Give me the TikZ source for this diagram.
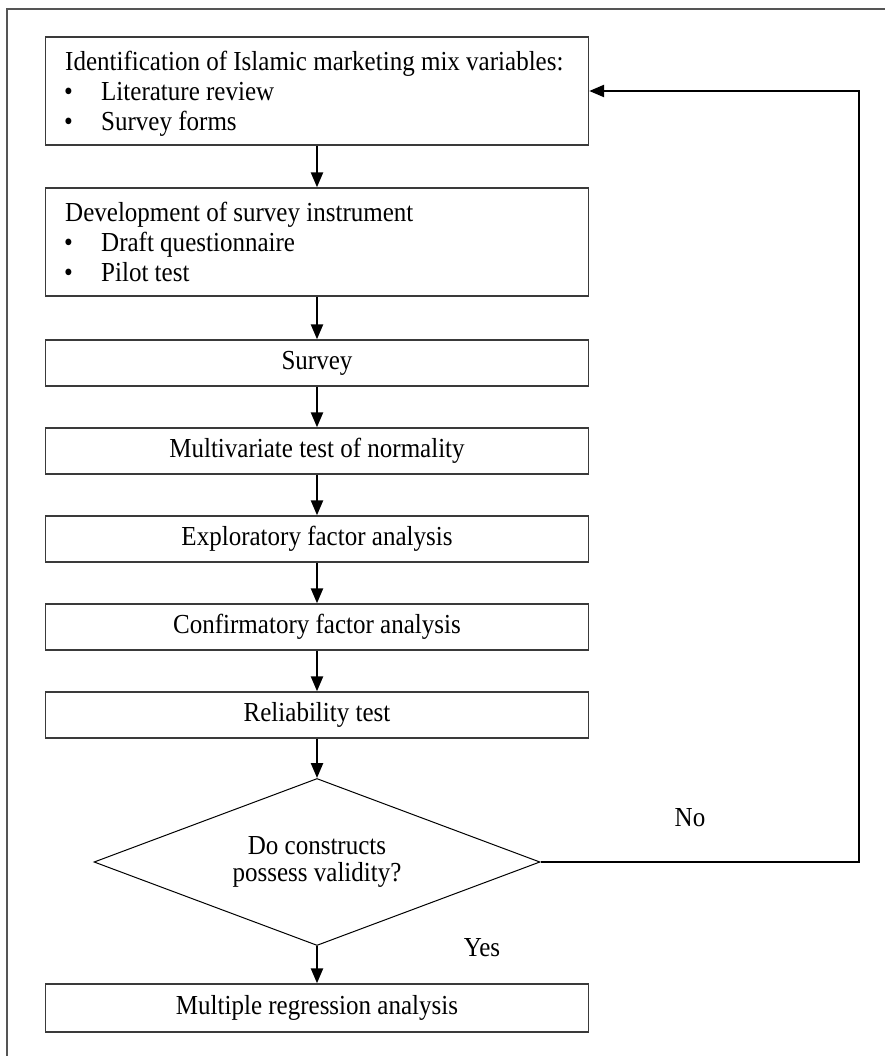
\documentclass[tikz,border=0pt]{standalone}
\usepackage{fontspec}
\setmainfont[FakeStretch=0.91]{Liberation Serif}
\usetikzlibrary{arrows.meta,shapes.geometric}
\definecolor{edgegray}{HTML}{3A3A3A}
\definecolor{framegray}{HTML}{555555}
\begin{document}
\begin{tikzpicture}[x=1pt,y=-1pt,
  font=\fontsize{27.5pt}{30pt}\selectfont,
  box/.style={draw=edgegray, line width=1.4pt, minimum width=543pt, inner sep=0pt},
  txt/.style={anchor=base west, inner sep=0pt},
  lbl/.style={inner sep=0pt},
  arr/.style={-{Triangle[length=15pt,width=12pt]}, line width=2.4pt, black},
  decision/.style={diamond, aspect=2.67, draw=black, line width=1pt, minimum width=446pt, minimum height=167pt, inner sep=0pt, align=center, font=\fontsize{27.5pt}{27pt}\selectfont}
]
\useasboundingbox (0,0) rectangle (884,1056);
% outer frame
\draw[framegray, line width=1.6pt] (7,1060) -- (7,9) -- (890,9);

% boxes
\node[box, minimum height=108pt] (b1) at (317,91) {};
\node[txt] (t1) at (65,71) {Identification of Islamic marketing mix variables:};
\node[txt] (t1a) at (64,101) {•};
\node[txt] (t1b) at (101,101) {Literature review};
\node[txt] (t1c) at (64,131) {•};
\node[txt] (t1d) at (101,131) {Survey forms};

\node[box, minimum height=108pt] (b2) at (317,242) {};
\node[txt] (t2) at (65,222) {Development of survey instrument};
\node[txt] (t2a) at (64,252) {•};
\node[txt] (t2b) at (101,252) {Draft questionnaire};
\node[txt] (t2c) at (64,282) {•};
\node[txt] (t2d) at (101,282) {Pilot test};

\node[box, minimum height=46pt] (b3) at (317,363) {Survey};
\node[box, minimum height=46pt] (b4) at (317,451) {Multivariate test of normality};
\node[box, minimum height=46pt] (b5) at (317,539) {Exploratory factor analysis};
\node[box, minimum height=46pt] (b6) at (317,627) {Confirmatory factor analysis};
\node[box, minimum height=46pt] (b7) at (317,715) {Reliability test};

\node[decision] (d) at (317,862) {Do constructs\\possess validity?};

\node[box, minimum height=48pt] (b8) at (317,1008) {Multiple regression analysis};

\node[lbl] (no) at (690,818) {No};
\node[lbl] (yes) at (482,948) {Yes};

\coordinate (fbx) at (859,0);

% connectors
\draw[arr] (b1) -- (b2);
\draw[arr] (b2) -- (b3);
\draw[arr] (b3) -- (b4);
\draw[arr] (b4) -- (b5);
\draw[arr] (b5) -- (b6);
\draw[arr] (b6) -- (b7);
\draw[arr] (b7) -- (d);
\draw[arr] (d) -- (b8);
\draw[arr, line join=miter] (d.east) -- (d.east -| fbx) |- (b1.east);
\end{tikzpicture}
\end{document}
